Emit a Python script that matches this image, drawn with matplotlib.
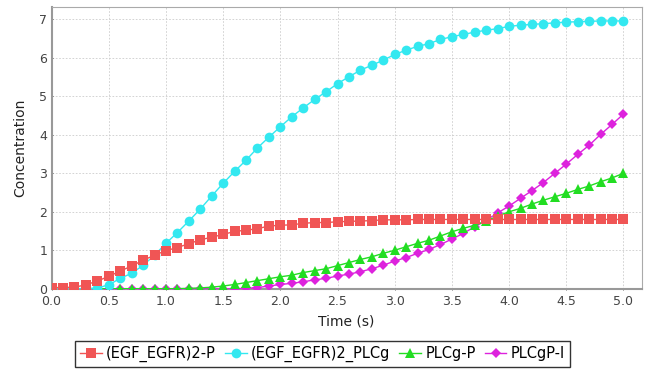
import matplotlib
matplotlib.use('Agg')
import matplotlib.pyplot as plt
import numpy as np

# time points (s)
time = [round(0.1 * i, 1) for i in range(51)]

egf_egfr2_p = [0.03, 0.03, 0.04, 0.10, 0.20, 0.32, 0.46, 0.59, 0.74, 0.87,
               0.99, 1.07, 1.17, 1.27, 1.34, 1.41, 1.49, 1.52, 1.56, 1.63,
               1.65, 1.66, 1.70, 1.72, 1.72, 1.74, 1.75, 1.76, 1.77, 1.79,
               1.79, 1.79, 1.80, 1.80, 1.80, 1.80, 1.80, 1.80, 1.80, 1.80,
               1.80, 1.80, 1.80, 1.80, 1.80, 1.80, 1.80, 1.80, 1.80, 1.80,
               1.80]
egf_egfr2_plcg = [0.0, 0.0, 0.0, 0.0, 0.02, 0.10, 0.27, 0.40, 0.61, 0.87,
                  1.18, 1.46, 1.76, 2.07, 2.41, 2.74, 3.05, 3.34, 3.66, 3.94,
                  4.21, 4.47, 4.70, 4.92, 5.12, 5.33, 5.51, 5.68, 5.81, 5.94,
                  6.09, 6.20, 6.30, 6.37, 6.48, 6.55, 6.61, 6.67, 6.72, 6.76,
                  6.82, 6.85, 6.87, 6.89, 6.91, 6.93, 6.94, 6.95, 6.96, 6.96,
                  6.96]
plcg_p = [0.0, 0.0, 0.0, 0.0, 0.0, 0.0, 0.0, 0.0, 0.0, 0.0,
          0.0, 0.0, 0.01, 0.02, 0.04, 0.07, 0.11, 0.16, 0.21, 0.26,
          0.31, 0.35, 0.42, 0.47, 0.52, 0.60, 0.68, 0.76, 0.83, 0.92,
          1.00, 1.09, 1.18, 1.26, 1.37, 1.48, 1.57, 1.65, 1.76, 1.89,
          2.00, 2.09, 2.20, 2.30, 2.39, 2.48, 2.58, 2.67, 2.78, 2.88,
          3.00]
plcgp_i = [0.0, 0.0, 0.0, 0.0, 0.0, 0.0, 0.0, 0.0, 0.0, 0.0,
           0.0, 0.0, 0.0, 0.0, 0.0, 0.0, 0.0, 0.01, 0.03, 0.07,
           0.11, 0.14, 0.18, 0.23, 0.27, 0.33, 0.38, 0.44, 0.52, 0.61,
           0.72, 0.81, 0.92, 1.02, 1.15, 1.29, 1.44, 1.61, 1.78, 1.97,
           2.15, 2.35, 2.55, 2.76, 3.00, 3.24, 3.49, 3.73, 4.01, 4.27,
           4.54]

series = [
    ("(EGF_EGFR)2-P", egf_egfr2_p, '#F05555', 's', 6.5),
    ("(EGF_EGFR)2_PLCg", egf_egfr2_plcg, '#33E8F0', 'o', 7.0),
    ("PLCg-P", plcg_p, '#22DD22', '^', 7.0),
    ("PLCgP-I", plcgp_i, '#DD22DD', 'D', 5.5),
]

fig = plt.figure(figsize=(6.45, 3.74), dpi=100)
ax = fig.add_axes([0.080, 0.226, 0.915, 0.755])

# first series ends up on top, like the original chart
for i, (name, vals, color, marker, ms) in enumerate(series):
    ax.plot(time, vals, color=color, marker=marker, markersize=ms,
            linewidth=1, label=name, markeredgewidth=0, zorder=10 - i)

ax.set_xlim(0, 5.16)
ax.set_ylim(-0.02, 7.32)
ax.set_xticks(np.arange(0, 5.01, 0.5))
ax.set_xticklabels([f"{v:.1f}" for v in np.arange(0, 5.01, 0.5)])
ax.set_yticks(range(0, 8))

ax.grid(True, color='#cccccc', linestyle=(0, (2, 2)), linewidth=0.6)
ax.set_axisbelow(True)
for side in ['left', 'bottom']:
    ax.spines[side].set_color('#999999')
    ax.spines[side].set_linewidth(1.5)
for side in ['top', 'right']:
    ax.spines[side].set_color('#aaaaaa')
    ax.spines[side].set_linewidth(0.8)

ax.tick_params(axis='both', labelsize=9, colors='#444444', length=2,
               width=0.6, direction='inout')
ax.tick_params(axis='x', pad=3)
ax.tick_params(axis='y', pad=2)
ax.set_xlabel("Time (s)", fontsize=10, color='#222222', labelpad=5)
ax.set_ylabel("Concentration", fontsize=10, color='#222222', labelpad=9)

leg = fig.legend(loc='center', bbox_to_anchor=(0.5, 0.053), ncol=4,
                 fontsize=10.5, frameon=True, fancybox=False,
                 handlelength=1.5, handletextpad=0.3, columnspacing=0.6,
                 borderpad=0.35, edgecolor='black')
leg.get_frame().set_linewidth(1.0)

fig.savefig('out.png', dpi=100)
